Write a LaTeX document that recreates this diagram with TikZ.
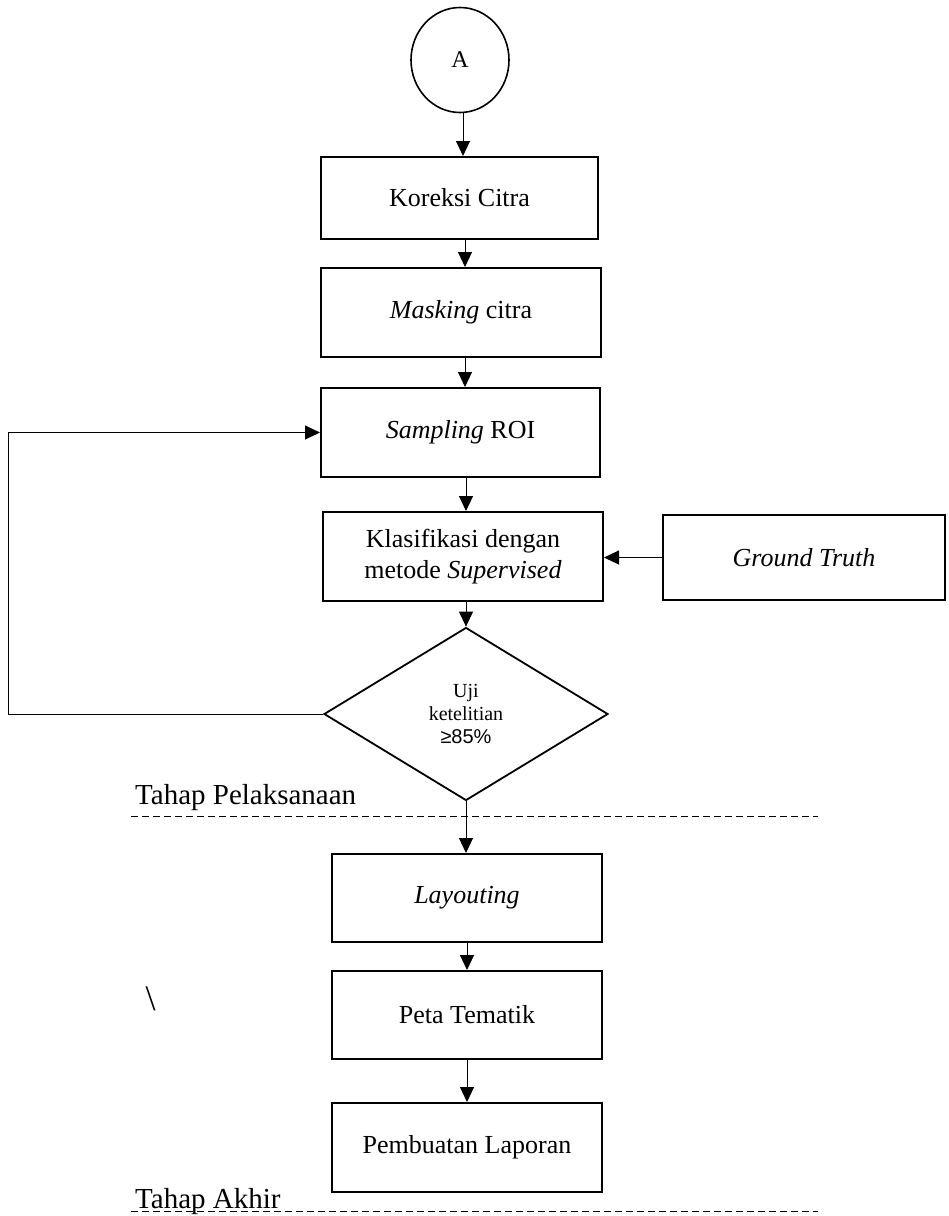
\documentclass[tikz,border=0pt]{standalone}
\usepackage{fontspec}
\setmainfont{Liberation Serif}
\newfontfamily\sansf{Liberation Sans}
\usetikzlibrary{shapes.geometric,arrows.meta}
\begin{document}
\begin{tikzpicture}[x=1pt,y=-1pt,
  boxst/.style={draw,line width=2pt,rectangle,inner sep=0pt,align=center,
    font=\fontsize{26}{31}\selectfont},
  arr/.style={line width=1pt,-{Triangle[width=14pt,length=15pt]}},
  lbl/.style={font=\fontsize{29}{34}\selectfont,inner sep=0pt,anchor=base west},
  dsh/.style={line width=1pt,dash pattern=on 7pt off 4pt}]
\useasboundingbox (0,0) rectangle (949,1216);
% nodes
\node[draw,ellipse,line width=1.6pt,minimum width=98pt,minimum height=105pt,inner sep=0pt,
  font=\fontsize{24}{28}\selectfont] (A) at (460,60) {A};
\node[boxst,minimum width=277pt,minimum height=82pt] (kor) at (459.5,198) {Koreksi Citra};
\node[boxst,minimum width=280pt,minimum height=89pt] (mask) at (461,312.5) {\textit{Masking} citra};
\node[boxst,minimum width=279pt,minimum height=89pt] (samp) at (460.5,432.5) {\textit{Sampling} ROI};
\node[boxst,minimum width=280pt,minimum height=89pt] (klas) at (463,556.5) {Klasifikasi dengan\\metode \textit{Supervised}};
\node[boxst,minimum width=282pt,minimum height=85pt] (gt) at (804,557.5) {\textit{Ground Truth}};
\node[draw,diamond,line width=1.8pt,inner sep=0pt,shape aspect=1.64,minimum width=284pt,minimum height=173pt,
  align=center,font=\fontsize{20}{23}\selectfont] (dia) at (466,714) {Uji\\ketelitian\\{\sansf ≥85\%}};
\node[boxst,minimum width=270pt,minimum height=88pt] (lay) at (467,898) {\textit{Layouting}};
\node[boxst,minimum width=270pt,minimum height=88pt] (peta) at (467,1015) {Peta Tematik};
\node[boxst,minimum width=270pt,minimum height=89pt] (pemb) at (467,1147.5) {Pembuatan Laporan};
% labels
\node[lbl] (tp) at (135,804) {Tahap Pelaksanaan};
\node[lbl] (ta) at (135,1208) {Tahap Akhir};
\node[font=\fontsize{36}{40}\selectfont,inner sep=0pt] (bs) at (150.5,999) {\textbackslash};
% helper coordinates
\coordinate (c1) at (463,0);
\coordinate (c2) at (465,0);
\coordinate (c3) at (466,0);
\coordinate (lp) at (8,0);
\coordinate (d1a) at (131,816);
\coordinate (d1b) at (818,816);
\coordinate (d2a) at (131,1211);
\coordinate (d2b) at (818,1211);
% connectors
\draw[arr] (A.south -| c1) -- (kor.north -| c1);
\draw[arr] (kor.south -| c2) -- (mask.north -| c2);
\draw[arr] (mask.south -| c2) -- (samp.north -| c2);
\draw[arr] (samp.south -| c3) -- (klas.north -| c3);
\draw[arr] (klas.south -| dia.north) -- (dia.north);
\draw[arr] (gt.west) -- (gt.west -| klas.east);
\draw[arr] (dia.west) -- (dia.west -| lp) |- (samp.west);
\draw[arr] (dia.south) -- (dia.south |- lay.north);
\draw[arr] (lay.south) -- (peta.north);
\draw[arr] (peta.south) -- (pemb.north);
\draw[dsh] (d1a) -- (d1b);
\draw[dsh] (d2a) -- (d2b);
\end{tikzpicture}
\end{document}
